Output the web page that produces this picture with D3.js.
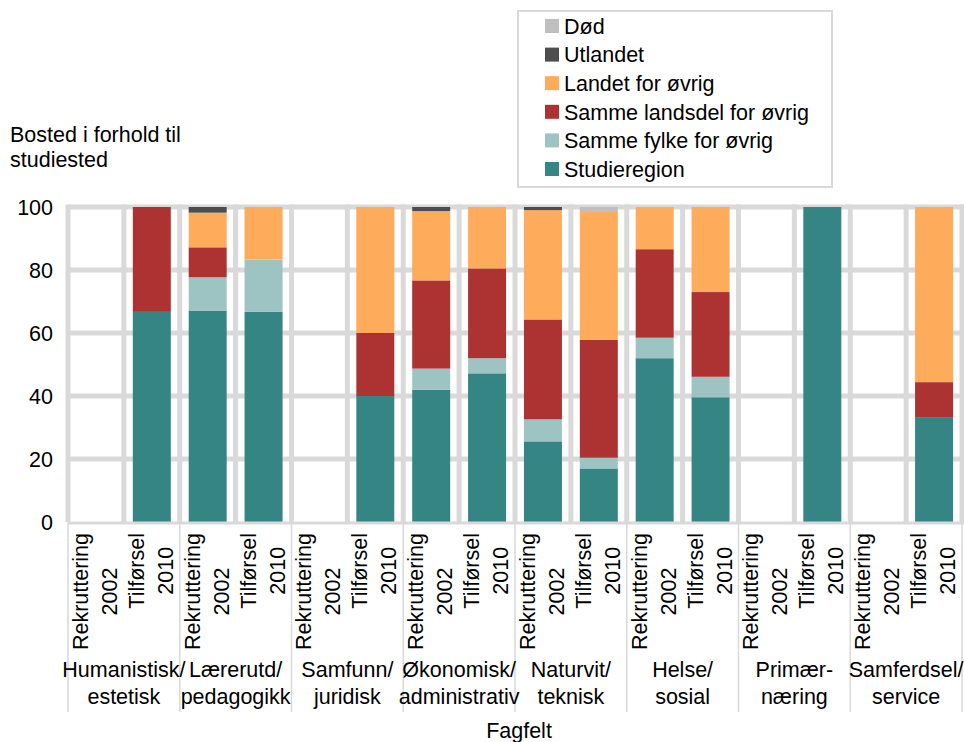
<!DOCTYPE html>
<html>
<head>
<meta charset="utf-8">
<script src="https://cdn.jsdelivr.net/npm/d3@7"></script>
<style>
  html, body { margin: 0; padding: 0; background: #fff; }
  svg text { font-family: "Liberation Sans", Arial, sans-serif; fill: #000; }
</style>
</head>
<body>
<svg id="chart" width="964" height="742"></svg>
<script>
// ---- Data ----
const groups = ["Humanistisk/\nestetisk", "Lærerutd/\npedagogikk", "Samfunn/\njuridisk", "Økonomisk/\nadministrativ", "Naturvit/\nteknisk", "Helse/\nsosial", "Primær-\nnæring", "Samferdsel/\nservice"];
const subLabels = ["Rekruttering\n2002", "Tilførsel\n2010"];
const seriesNames = ["Studieregion", "Samme fylke for øvrig", "Samme landsdel for øvrig", "Landet for øvrig", "Utlandet", "Død"];
const seriesColors = ["#358585", "#9dc3c3", "#ad3333", "#ffab5c", "#4d4d4d", "#bfbfbf"];
// one value per bar (group × sub), in order: Hum R, Hum T, Lær R, Lær T, ...
const studieregion = [0, 66.7, 67.0, 66.7, 0, 40.0, 42.0, 47.2, 25.6, 17.0, 52.0, 39.6, 0, 100, 0, 33.3];
const sammeFylke   = [0, 0,    10.7, 16.6, 0, 0,    6.7,  4.8,  7.0,  3.4,  6.5,  6.5,  0, 0,   0, 0];
const sammeLandsdel= [0, 33.3, 9.5,  0,    0, 20.0, 28.0, 28.5, 31.7, 37.4, 28.1, 26.9, 0, 0,   0, 11.1];
const landetOvrig  = [0, 0,    11.0, 16.7, 0, 40.0, 22.0, 19.5, 34.7, 40.6, 13.4, 27.0, 0, 0,   0, 55.6];
const utlandet     = [0, 0,    1.8,  0,    0, 0,    1.3,  0,    1.0,  0,    0,    0,    0, 0,   0, 0];
const dod          = [0, 0,    0,    0,    0, 0,    0,    0,    0,    1.6,  0,    0,    0, 0,   0, 0];
const yTicks = [0, 20, 40, 60, 80, 100];
const yTitle = ["Bosted i forhold til", "studiested"];
const xTitle = "Fagfelt";

// ---- Build table ----
const seriesValues = [studieregion, sammeFylke, sammeLandsdel, landetOvrig, utlandet, dod];
const keys = seriesNames;
const bars = [];
groups.forEach((g, gi) => subLabels.forEach((s, si) => {
  const i = gi * 2 + si;
  const row = { id: i, group: g, sub: s };
  keys.forEach((k, ki) => row[k] = seriesValues[ki][i]);
  bars.push(row);
}));

const svg = d3.select("#chart");
const FS = 21.5;
const pL = 68, pR = 962, pT = 207, pB = 522;
const grid = "#d9d9d9";

const x = d3.scaleBand().domain(bars.map(d => d.id)).range([pL, pR]).paddingInner(0.32).paddingOuter(0.16);
const y = d3.scaleLinear().domain([0, 100]).range([pB, pT]);
const step = x.step();

// gridlines
const gg = svg.append("g");
gg.selectAll("line.h").data(yTicks.filter(t => t > 0)).join("line")
  .attr("x1", pL).attr("x2", pR + 2).attr("y1", d => y(d)).attr("y2", d => y(d))
  .attr("stroke", grid).attr("stroke-width", 5);
const bounds = d3.range(bars.length + 1).map(i => pL + i * step);
gg.selectAll("line.v").data(bounds).join("line")
  .attr("x1", d => d).attr("x2", d => d).attr("y1", pT - 2.5).attr("y2", pB)
  .attr("stroke", grid).attr("stroke-width", 5);

// bars
const stack = d3.stack().keys(keys)(bars);
svg.append("g").selectAll("g").data(stack).join("g")
  .attr("fill", (d, i) => seriesColors[i])
  .selectAll("rect").data(d => d.filter(p => p[1] - p[0] > 0)).join("rect")
  .attr("x", d => x(d.data.id)).attr("width", x.bandwidth())
  .attr("y", d => y(d[1])).attr("height", d => y(d[0]) - y(d[1]));

// x axis line
svg.append("line").attr("x1", pL).attr("x2", pR + 2).attr("y1", pB + 1).attr("y2", pB + 1)
  .attr("stroke", grid).attr("stroke-width", 3);
// group separators
const gBounds = d3.range(groups.length + 1).map(i => pL + i * 2 * step);
svg.append("g").selectAll("line").data(gBounds).join("line")
  .attr("x1", d => d).attr("x2", d => d).attr("y1", pB).attr("y2", 712)
  .attr("stroke", grid).attr("stroke-width", 1.5);

// y axis labels
const yAxis = d3.axisLeft(y).tickValues(yTicks).tickSize(0).tickPadding(0);
const ya = svg.append("g").attr("transform", `translate(53,0)`).call(yAxis);
ya.select(".domain").remove();
ya.selectAll("text").attr("font-size", FS).attr("font-family", "Liberation Sans, Arial, sans-serif").attr("fill", "#000").attr("dy", "0.36em");

// sub labels (rotated)
bars.forEach(d => {
  const cx = x(d.id) + x.bandwidth() / 2;
  const lines = d.sub.split("\n");
  const t = svg.append("g");
  const txt = t.append("text").attr("font-size", FS).attr("text-anchor", "middle");
  txt.selectAll("tspan").data(lines).join("tspan").attr("x", 0).attr("y", (l, i) => i === 0 ? -8 : 21).text(l => l);
  const maxLen = d3.max(txt.selectAll("tspan").nodes(), n => n.getComputedTextLength());
  t.attr("transform", `translate(${cx},${533 + maxLen / 2}) rotate(-90)`);
});

// group labels
groups.forEach((gname, gi) => {
  const cx = pL + (gi * 2 + 1) * step;
  const lines = gname.split("\n");
  svg.append("text").attr("font-size", FS).attr("text-anchor", "middle")
    .selectAll("tspan").data(lines).join("tspan")
    .attr("x", cx).attr("y", (l, i) => 677 + i * 27).text(l => l);
});

// x title
svg.append("text").attr("x", 519).attr("y", 738).attr("font-size", FS).attr("text-anchor", "middle").text(xTitle);

// y title
svg.append("text").attr("font-size", FS)
  .selectAll("tspan").data(yTitle).join("tspan")
  .attr("x", 10).attr("y", (l, i) => 142 + i * 25).text(l => l);

// legend
const lg = svg.append("g");
lg.append("rect").attr("x", 518).attr("y", 11).attr("width", 314).attr("height", 176)
  .attr("fill", "#fff").attr("stroke", grid).attr("stroke-width", 2);
const legendOrder = d3.range(seriesNames.length).reverse();
legendOrder.forEach((si, r) => {
  const cy = 26 + r * 28.6;
  lg.append("rect").attr("x", 545).attr("y", cy - 7).attr("width", 14).attr("height", 14).attr("fill", seriesColors[si]);
  lg.append("text").attr("x", 564).attr("y", cy).attr("dy", "0.36em").attr("font-size", FS).text(seriesNames[si]);
});
</script>
</body>
</html>
